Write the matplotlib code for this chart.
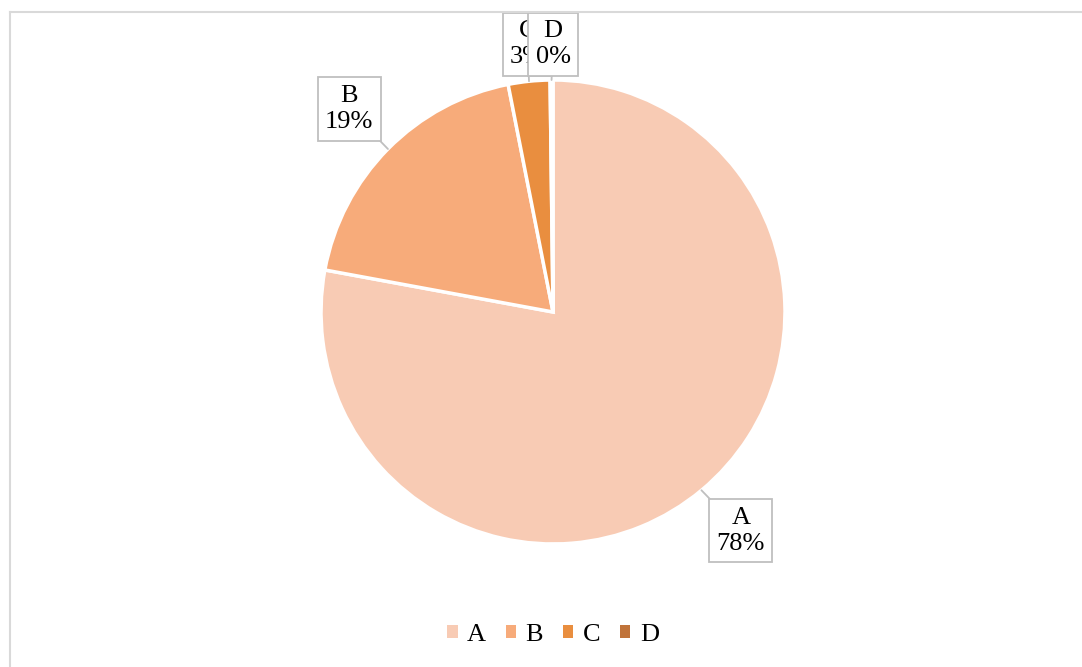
import numpy as np
import matplotlib.pyplot as plt
from matplotlib.lines import Line2D

plt.rcParams['font.family'] = ['Liberation Serif', 'DejaVu Serif']

labels = ['A', 'B', 'C', 'D']
values = [77.9, 19.0, 2.9, 0.2]
colors = ['#F8CBB4', '#F7AB7A', '#E98E3F', '#C0733A']

# label box centres (data units, pie radius = 1)
label_pos = [(0.81, -0.944), (-0.879, 0.875), (-0.11, 1.155), (0.0, 1.155)]

fig = plt.figure(figsize=(10.82, 6.67), dpi=100)
ax = fig.add_axes([0.2967, 0.1844, 0.4288, 0.6957])

wedges, _ = ax.pie(values, colors=colors, startangle=90, counterclock=False,
                   radius=1, wedgeprops=dict(edgecolor='white', linewidth=2.5))
ax.set_xlim(-1, 1)
ax.set_ylim(-1, 1)
ax.set_aspect('equal')
ax.axis('off')

total = sum(values)
start = 90.0
for lab, val, pos in zip(labels, values, label_pos):
    mid = np.deg2rad(start - val / total * 360 / 2)
    start -= val / total * 360
    edge = (np.cos(mid), np.sin(mid))
    pct = '%d%%' % round(val / total * 100)
    ax.annotate(lab + '\n' + pct, xy=edge, xytext=pos, ha='center', va='center',
                fontsize=19, linespacing=1.25, annotation_clip=False,
                bbox=dict(boxstyle='square,pad=0.28', fc='white', ec='#BFBFBF', lw=1.3),
                arrowprops=dict(arrowstyle='-', color='#BFBFBF', lw=1.3,
                                shrinkA=0, shrinkB=0))

leg_handles = [plt.Rectangle((0, 0), 1, 1, fc=c, ec='none') for c in colors]
fig.legend(leg_handles, labels, loc='center', bbox_to_anchor=(0.511, 0.048), ncol=4,
           frameon=False, fontsize=19, handlelength=0.4, handleheight=0.4,
           handletextpad=0.35, columnspacing=0.75)

# outer frame (top and left edges visible)
fig.add_artist(Line2D([10 / 1082, 1], [1 - 12 / 667] * 2, transform=fig.transFigure,
                      color='#D9D9D9', lw=1.5))
fig.add_artist(Line2D([10 / 1082] * 2, [0, 1 - 12 / 667], transform=fig.transFigure,
                      color='#D9D9D9', lw=1.5))

fig.savefig('out.png', dpi=100)
